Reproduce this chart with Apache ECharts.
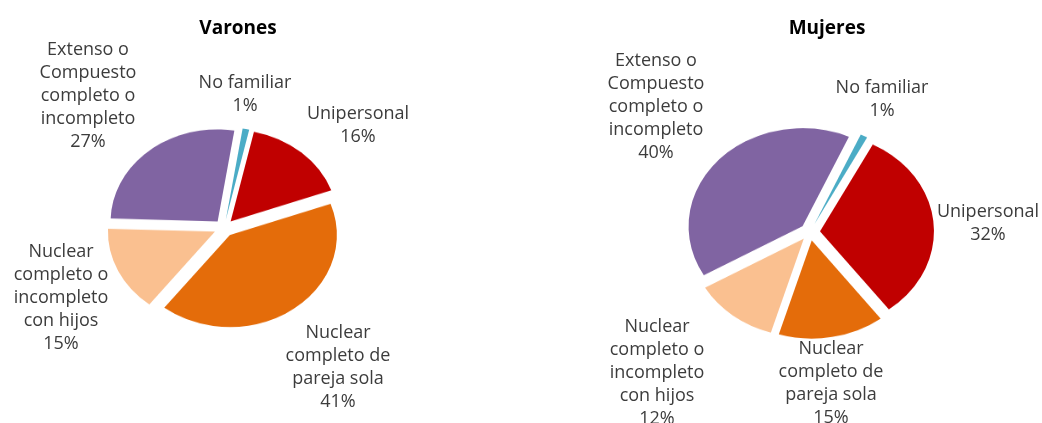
<!DOCTYPE html>
<html>
<head>
<meta charset="utf-8">
<script src="https://cdn.jsdelivr.net/npm/echarts@6/dist/echarts.min.js"></script>
<style>
  html, body { margin: 0; padding: 0; background: #fff; overflow: hidden; }
  #wrap { position: relative; width: 1042px; height: 423px; overflow: hidden; }
  /* the pies are tilted like the original 3D chart: squash them vertically */
  #pies { position: absolute; left: 0; top: 0; width: 1042px; height: 492px;
          transform: scaleY(0.86); transform-origin: 0 0; }
  #chart { position: absolute; left: 0; top: 0; width: 1042px; height: 423px; }
</style>
</head>
<body>
<div id="wrap">
  <div id="pies"></div>
  <div id="chart"></div>
</div>
<script>
// categories (clockwise from the top of each pie)
var categories = [
  'No familiar',
  'Unipersonal',
  'Nuclear\ncompleto de\npareja sola',
  'Nuclear\ncompleto o\nincompleto\ncon hijos',
  'Extenso o\nCompuesto\ncompleto o\nincompleto'
];
var varones = [1, 16, 41, 15, 27];
var mujeres = [1, 32, 15, 12, 40];
var colors = ['#4BACC6', '#C00000', '#E46C0A', '#FAC090', '#8064A2'];
var titles = ['Varones', 'Mujeres'];

// label anchor points (centre of each text block)
var varonesLabelPos = [[245, 94], [358, 125], [338, 367], [61, 298], [88, 96]];
var mujeresLabelPos = [[882, 99], [988, 223], [831, 383], [657, 373], [656, 107]];

var SY = 0.86;
var pieChart = echarts.init(document.getElementById('pies'));
var textChart = echarts.init(document.getElementById('chart'));

function buildData(values) {
  return values.map(function (v, i) {
    return { name: categories[i], value: v, selected: true, itemStyle: { color: colors[i] } };
  });
}

function pieSeries(name, values, center, radius, startAngle) {
  return {
    name: name,
    type: 'pie',
    center: [center[0], center[1] / SY],
    radius: radius,
    startAngle: startAngle,
    clockwise: true,
    selectedMode: 'multiple',
    selectedOffset: 10,
    emphasis: { disabled: true },
    label: { show: false },
    labelLine: { show: false },
    data: buildData(values)
  };
}

pieChart.setOption({
  animation: false,
  series: [
    pieSeries('Varones', varones, [224, 228], 107, 81),
    pieSeries('Mujeres', mujeres, [810, 232], 114, 66)
  ]
});

// labels: name + percentage, placed like the original
function labelTexts(values, pos) {
  return values.map(function (v, i) {
    return {
      type: 'text',
      x: pos[i][0],
      y: pos[i][1],
      style: {
        text: categories[i] + '\n' + v + '%',
        align: 'center',
        verticalAlign: 'middle',
        fill: '#3c3c3c',
        font: '18px "Open Sans"',
        lineHeight: 23
      }
    };
  });
}

textChart.setOption({
  animation: false,
  title: [
    { text: titles[0], left: 233, top: 14, textAlign: 'center',
      textStyle: { fontFamily: 'Open Sans', fontSize: 19, fontWeight: 'bold', color: '#000' } },
    { text: titles[1], left: 822, top: 14, textAlign: 'center',
      textStyle: { fontFamily: 'Open Sans', fontSize: 19, fontWeight: 'bold', color: '#000' } }
  ],
  graphic: labelTexts(varones, varonesLabelPos).concat(labelTexts(mujeres, mujeresLabelPos))
});

window.addEventListener('resize', function () {
  pieChart.resize();
  textChart.resize();
});
</script>
</body>
</html>
